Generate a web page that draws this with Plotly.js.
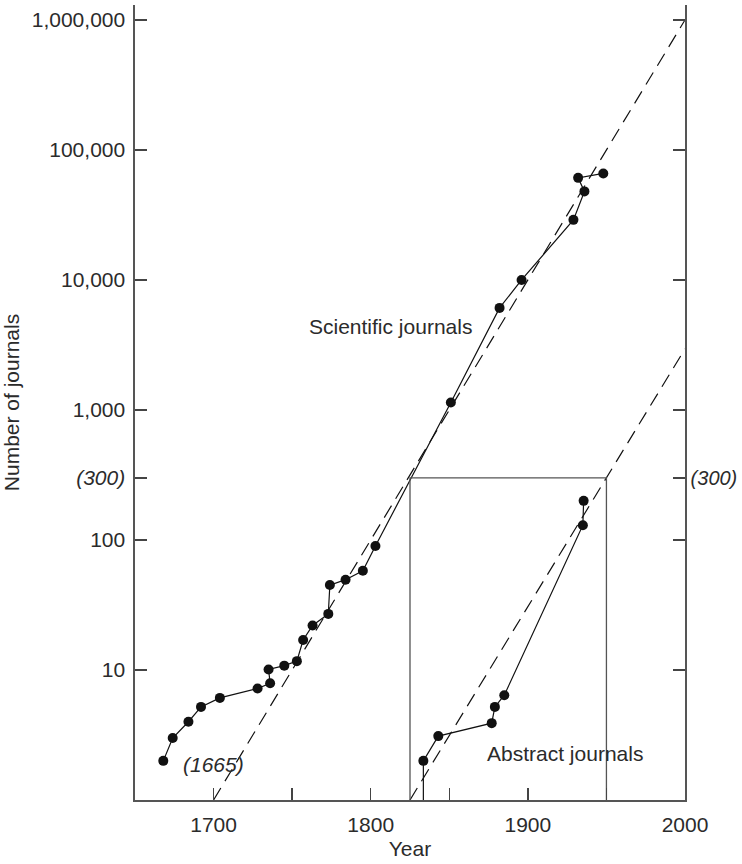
<!DOCTYPE html>
<html>
<head>
<meta charset="utf-8">
<script src="https://cdn.plot.ly/plotly-3.0.1.min.js"></script>
<style>html,body{margin:0;padding:0;background:#fff;}#chart{width:742px;height:864px;}</style>
</head>
<body>
<div id="chart"></div>
<script>
// ---- data ----
const sciYears  = [1668, 1674, 1684, 1692, 1704, 1728, 1736, 1735, 1745, 1753, 1757, 1763, 1773, 1774, 1784, 1795, 1803, 1851, 1882, 1896, 1929, 1936, 1932, 1948];
const sciCounts = [2, 3, 4, 5.2, 6.1, 7.2, 7.9, 10.1, 10.8, 11.7, 17, 22, 27, 45, 49.5, 58, 90, 1140, 6100, 10000, 29000, 48000, 61000, 66000];

// first entry is where the abstract-journal line leaves the axis
const absYears  = [1833.5, 1833.5, 1843, 1877, 1879, 1885, 1935, 1935.5];
const absCounts = [1, 2, 3.1, 3.9, 5.2, 6.4, 130, 200];

const sciTrendYears  = [1700, 2000];
const sciTrendCounts = [1, 1000000];
const absTrendYears  = [1825, 2000];
const absTrendCounts = [1, 2950];

const boxYears = [1825, 1950];
const boxTop = 300;
const axisFloor = 1;

const xTickVals = [1700, 1750, 1800, 1850, 1900, 1950, 2000];
const xTickText = ['1700', '', '1800', '', '1900', '', '2000'];
const yTickVals = [1, 10, 100, 300, 1000, 10000, 100000, 1000000];
const yTickTextLeft  = ['', '10', '100', '<i>(300)</i>', '1,000', '10,000', '100,000', '1,000,000'];
const yTickTextRight = ['', '', '', '<i>(300)</i>', '', '', '', ''];

// ---- drawing ----
const FONT = 'Liberation Sans, Arial, Helvetica, sans-serif';
const FS = 21;
const TXT = '#2b2b2b';
const AX = '#555';

const traces = [
  { // inset box (also carries the right-hand axis)
    x: [boxYears[0], boxYears[0], boxYears[1], boxYears[1]],
    y: [axisFloor, boxTop, boxTop, axisFloor],
    xaxis: 'x', yaxis: 'y2', mode: 'lines',
    line: {color: '#555', width: 1.3}, hoverinfo: 'skip', showlegend: false
  },
  {
    x: sciTrendYears, y: sciTrendCounts, mode: 'lines',
    line: {color: '#111', width: 1.2, dash: '14px,8px'}, showlegend: false
  },
  {
    x: absTrendYears, y: absTrendCounts, mode: 'lines',
    line: {color: '#111', width: 1.2, dash: '14px,8px'}, showlegend: false
  },
  {
    x: sciYears, y: sciCounts, mode: 'lines+markers',
    line: {color: '#111', width: 1.2},
    marker: {color: '#111', size: 10}, showlegend: false
  },
  {
    x: absYears, y: absCounts, mode: 'lines',
    line: {color: '#111', width: 1.2}, showlegend: false
  },
  {
    x: absYears.slice(1), y: absCounts.slice(1), mode: 'markers',
    marker: {color: '#111', size: 10}, showlegend: false
  }
];

const yCommon = {
  type: 'log', range: [0, 6.115], tickvals: yTickVals,
  ticks: 'inside', ticklen: 12, tickwidth: 1.3, tickcolor: '#444',
  showline: true, linecolor: AX, linewidth: 1.6,
  showgrid: false, zeroline: false,
  tickfont: {family: FONT, size: FS, color: TXT}
};

const layout = {
  width: 742, height: 864,
  margin: {l: 135, r: 57, t: 5, b: 64},
  paper_bgcolor: '#fff', plot_bgcolor: '#fff',
  font: {family: FONT, color: TXT, size: FS},
  xaxis: {
    range: [1650, 2000], tickvals: xTickVals, ticktext: xTickText,
    ticks: 'inside', ticklen: 12, tickwidth: 1.3, tickcolor: '#444',
    showline: true, linecolor: AX, linewidth: 1.6,
    showgrid: false, zeroline: false,
    tickfont: {family: FONT, size: FS, color: TXT},
    ticklabelstandoff: 5,
    title: {text: 'Year', font: {family: FONT, size: FS, color: TXT}, standoff: 6},
    automargin: false
  },
  yaxis: Object.assign({}, yCommon, {
    ticktext: yTickTextLeft, side: 'left', ticklabelstandoff: 4,
    title: {text: 'Number of journals', font: {family: FONT, size: FS, color: TXT}, standoff: 8},
    automargin: false
  }),
  yaxis2: Object.assign({}, yCommon, {
    ticktext: yTickTextRight, side: 'right', overlaying: 'y', ticklabelstandoff: 0,
    tickfont: {family: FONT, size: 20, color: TXT},
    automargin: false
  }),
  annotations: [
    {x: 1759.5, y: 3.64, xref: 'x', yref: 'y', text: 'Scientific journals', showarrow: false,
     xanchor: 'left', yanchor: 'middle', font: {family: FONT, size: FS, color: TXT}},
    {x: 1923.6, y: 0.36, xref: 'x', yref: 'y', text: 'Abstract journals', showarrow: false,
     xanchor: 'center', yanchor: 'middle', font: {family: FONT, size: FS, color: TXT}},
    {x: 1700, y: 0.27, xref: 'x', yref: 'y', text: '<i>(1665)</i>', showarrow: false,
     xanchor: 'center', yanchor: 'middle', font: {family: FONT, size: FS, color: TXT}}
  ]
};

Plotly.newPlot('chart', traces, layout, {displayModeBar: false, staticPlot: true});
</script>
</body>
</html>
